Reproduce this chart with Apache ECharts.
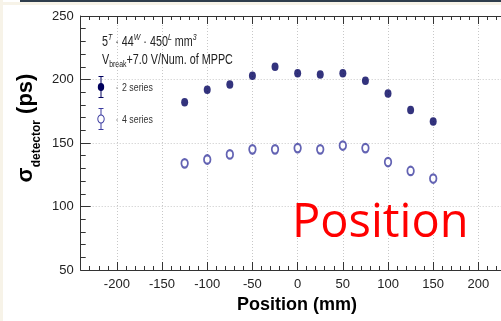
<!DOCTYPE html>
<html>
<head>
<meta charset="utf-8">
<script src="https://cdn.jsdelivr.net/npm/echarts@6/dist/echarts.min.js"></script>
<style>html,body{margin:0;padding:0;background:#fff}#c{width:501px;height:321px}</style>
</head>
<body>
<div id="c"></div>
<script>
// ---- data ----
const positions = [-125, -100, -75, -50, -25, 0, 25, 50, 75, 100, 125, 150];
const sigma2series = [182, 192, 196, 203, 210, 205, 204, 205, 199, 189, 176, 167];
const sigma4series = [134, 137, 141, 145, 145, 146, 145, 148, 146, 135, 128, 122];
const xTickValues = [-200, -150, -100, -50, 0, 50, 100, 150, 200];
const yTickValues = [50, 100, 150, 200, 250];
const seriesNames = ['2 series', '4 series'];

const X_MIN = -240, X_MAX = 225, Y_MIN = 50, Y_MAX = 250;
const AXIS_COLOR = '#333';
const FILL_COLOR = '#00005c';
const OPEN_COLOR = '#3c3ca0';
const LABEL_FONT = "'Liberation Sans', Arial, sans-serif";
const gridLine = {show: true, lineStyle: {color: '#c8c8c8', type: [1, 2], width: 1}};

function xAxisCfg(position, major) {
  const base = {type: 'value', min: X_MIN, max: X_MAX, position: position, gridIndex: 0};
  if (major) {
    return Object.assign(base, {
      axisLine: {show: true, onZero: false, lineStyle: {color: AXIS_COLOR, width: 1}},
      axisTick: {show: true, inside: true, length: 8, customValues: xTickValues, lineStyle: {color: AXIS_COLOR}},
      axisLabel: {show: position === 'bottom', customValues: xTickValues, margin: 8, color: '#222',
                  fontSize: 13, fontFamily: LABEL_FONT},
      splitLine: position === 'bottom' ? gridLine : {show: false}
    });
  }
  return Object.assign(base, {
    interval: 10,
    axisLine: {show: false, onZero: false},
    axisTick: {show: true, inside: true, length: 4, lineStyle: {color: AXIS_COLOR}},
    axisLabel: {show: false},
    splitLine: {show: false}
  });
}

function legendEntry(cy, color, filled, label) {
  const els = [
    {type: 'line', shape: {x1: 101, y1: cy - 10.5, x2: 101, y2: cy + 10.5}, style: {stroke: color, lineWidth: 1}, z: 5},
    {type: 'line', shape: {x1: 98.5, y1: cy - 10.5, x2: 103.5, y2: cy - 10.5}, style: {stroke: color, lineWidth: 1}, z: 5},
    {type: 'line', shape: {x1: 98.5, y1: cy + 10.5, x2: 103.5, y2: cy + 10.5}, style: {stroke: color, lineWidth: 1}, z: 5},
    {type: 'circle', x: 101, y: cy, scaleX: 0.8, shape: {cx: 0, cy: 0, r: 4},
     style: filled ? {fill: color} : {fill: '#fff', stroke: color, lineWidth: 1.2, strokeNoScale: true}, z: 6},
    {type: 'circle', shape: {cx: 117, cy: cy + 1, r: 0.7}, style: {fill: '#777'}, z: 5},
    {type: 'text', x: 122, y: cy + 1, scaleX: 0.8, z: 6,
     style: {text: label, fill: '#333', verticalAlign: 'middle', font: "11px 'Liberation Sans', Arial, sans-serif"}}
  ];
  return els;
}

const chart = echarts.init(document.getElementById('c'), null, {renderer: 'canvas'});
chart.setOption({
  animation: false,
  backgroundColor: '#fff',
  grid: {left: 80.7, right: 0, top: 16, bottom: 51, containLabel: false},
  xAxis: [xAxisCfg('bottom', true), xAxisCfg('bottom', false), xAxisCfg('top', true), xAxisCfg('top', false)],
  yAxis: {
    type: 'value', min: Y_MIN, max: Y_MAX, interval: 50,
    axisLine: {show: true, onZero: false, lineStyle: {color: AXIS_COLOR}},
    axisTick: {show: true, inside: true, length: 10, lineStyle: {color: AXIS_COLOR}},
    minorTick: {show: true, splitNumber: 5, length: 5, lineStyle: {color: AXIS_COLOR}},
    axisLabel: {margin: 7, color: '#222', fontSize: 13, fontFamily: LABEL_FONT},
    splitLine: gridLine
  },
  series: [
    {
      name: seriesNames[0], type: 'scatter', xAxisIndex: 0, yAxisIndex: 0,
      symbol: 'circle', symbolSize: [7, 8.5],
      itemStyle: {color: FILL_COLOR},
      data: positions.map((p, i) => [p, sigma2series[i]])
    },
    {
      name: seriesNames[1], type: 'scatter', xAxisIndex: 0, yAxisIndex: 0,
      symbol: 'emptyCircle', symbolSize: [6.5, 8.5],
      itemStyle: {color: OPEN_COLOR, borderWidth: 1.2},
      data: positions.map((p, i) => [p, sigma4series[i]])
    }
  ],
  graphic: [
    // frame decorations of the screenshot
    {type: 'rect', shape: {x: 0, y: 2, width: 501, height: 3}, style: {fill: '#f7f3e8'}, silent: true},
    {type: 'rect', shape: {x: 20, y: 0, width: 481, height: 2}, style: {fill: '#2e3d4c'}, silent: true},
    {type: 'rect', shape: {x: 0, y: 0, width: 3, height: 321}, style: {fill: '#f7f3e8'}, silent: true},
    // legend
    ...legendEntry(87, FILL_COLOR, true, seriesNames[0]),
    ...legendEntry(119, OPEN_COLOR, false, seriesNames[1]),
    // annotation text
    {
      type: 'text', x: 102, y: 33, scaleX: 0.77, z: 10,
      style: {
        text: '{n|5}{sup|T}{n| · 44}{sup|W}{n| · 450}{sup|L}{n| mm}{sup|3}',
        fill: '#222',
        rich: {
          n: {fontSize: 14, lineHeight: 16, verticalAlign: 'bottom', fontFamily: LABEL_FONT, fill: '#222'},
          sup: {fontSize: 9, lineHeight: 9, verticalAlign: 'top', fontStyle: 'italic', fontFamily: LABEL_FONT, fill: '#222'}
        }
      }
    },
    {
      type: 'text', x: 102, y: 53, scaleX: 0.77, z: 10,
      style: {
        text: '{n|V}{sub|break}{n|+7.0 V/Num. of MPPC}',
        fill: '#222',
        rich: {
          n: {fontSize: 14, lineHeight: 16, verticalAlign: 'top', fontFamily: LABEL_FONT, fill: '#222'},
          sub: {fontSize: 9, lineHeight: 9, verticalAlign: 'bottom', fontFamily: LABEL_FONT, fill: '#222'}
        }
      }
    },
    // y axis title
    {
      type: 'text', x: 27, y: 128, rotation: Math.PI / 2, z: 10,
      style: {
        text: '{s|σ}{sub|detector}{s| (ps)}',
        align: 'center', verticalAlign: 'middle',
        fill: '#000',
        rich: {
          s: {fontSize: 22, fontWeight: 'bold', lineHeight: 24, verticalAlign: 'top', fontFamily: LABEL_FONT, fill: '#000'},
          sub: {fontSize: 12, fontWeight: 'bold', lineHeight: 12, padding: [16, 0, 0, 0], verticalAlign: 'top', fontFamily: LABEL_FONT, fill: '#000'}
        }
      }
    },
    // x axis title
    {
      type: 'text', x: 297, y: 305, z: 10,
      style: {text: 'Position (mm)', align: 'center', verticalAlign: 'middle',
              font: "bold 18px 'Liberation Sans', Arial, sans-serif", fill: '#000'}
    },
    // red overlay word
    {
      type: 'text', x: 292, y: 224, z: 10,
      style: {text: 'Position', align: 'left', verticalAlign: 'middle',
              font: "47px 'Open Sans', 'Noto Sans', sans-serif", fill: '#ff0000'}
    }
  ]
});
</script>
</body>
</html>
